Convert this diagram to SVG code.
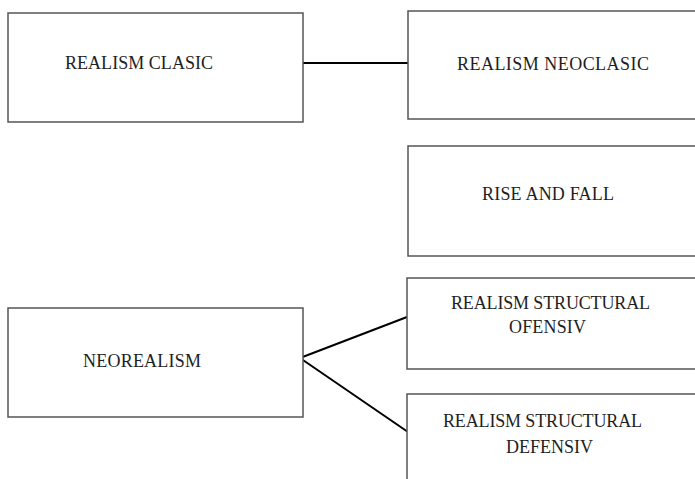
<svg xmlns="http://www.w3.org/2000/svg" width="695" height="479" viewBox="0 0 695 479">
<style>
.box{fill:#fff;stroke:#555;stroke-width:1.5}
.t{font-family:"Liberation Serif","Times New Roman",serif;font-size:18px;fill:#1e1e1e}
.c{stroke:#000;stroke-width:2;fill:none}
</style>
<rect width="695" height="479" fill="#fff"/>
<g id="connectors">
<line class="c" x1="303" y1="63" x2="408" y2="63"/>
<line class="c" x1="300" y1="358" x2="407" y2="317"/>
<line class="c" x1="300" y1="358" x2="408" y2="432"/>
</g>
<g id="realism-clasic">
<rect class="box" x="8" y="13" width="295" height="109"/>
<text class="t" x="65" y="69" textLength="148" lengthAdjust="spacing">REALISM CLASIC</text>
</g>
<g id="realism-neoclasic">
<rect class="box" x="408" y="11" width="300" height="108"/>
<text class="t" x="457" y="70" textLength="192" lengthAdjust="spacing">REALISM NEOCLASIC</text>
</g>
<g id="rise-and-fall">
<rect class="box" x="408" y="146" width="300" height="110"/>
<text class="t" x="482" y="200" textLength="132" lengthAdjust="spacing">RISE AND FALL</text>
</g>
<g id="neorealism">
<rect class="box" x="8" y="308" width="295" height="109"/>
<text class="t" x="83" y="367" textLength="118" lengthAdjust="spacing">NEOREALISM</text>
</g>
<g id="ofensiv">
<rect class="box" x="407" y="278" width="300" height="91"/>
<text class="t" x="451" y="309" textLength="199" lengthAdjust="spacing">REALISM STRUCTURAL</text>
<text class="t" x="509" y="333" textLength="77" lengthAdjust="spacing">OFENSIV</text>
</g>
<g id="defensiv">
<rect class="box" x="407" y="394" width="300" height="100"/>
<text class="t" x="443" y="427" textLength="199" lengthAdjust="spacing">REALISM STRUCTURAL</text>
<text class="t" x="506" y="453" textLength="87" lengthAdjust="spacing">DEFENSIV</text>
</g>
</svg>
